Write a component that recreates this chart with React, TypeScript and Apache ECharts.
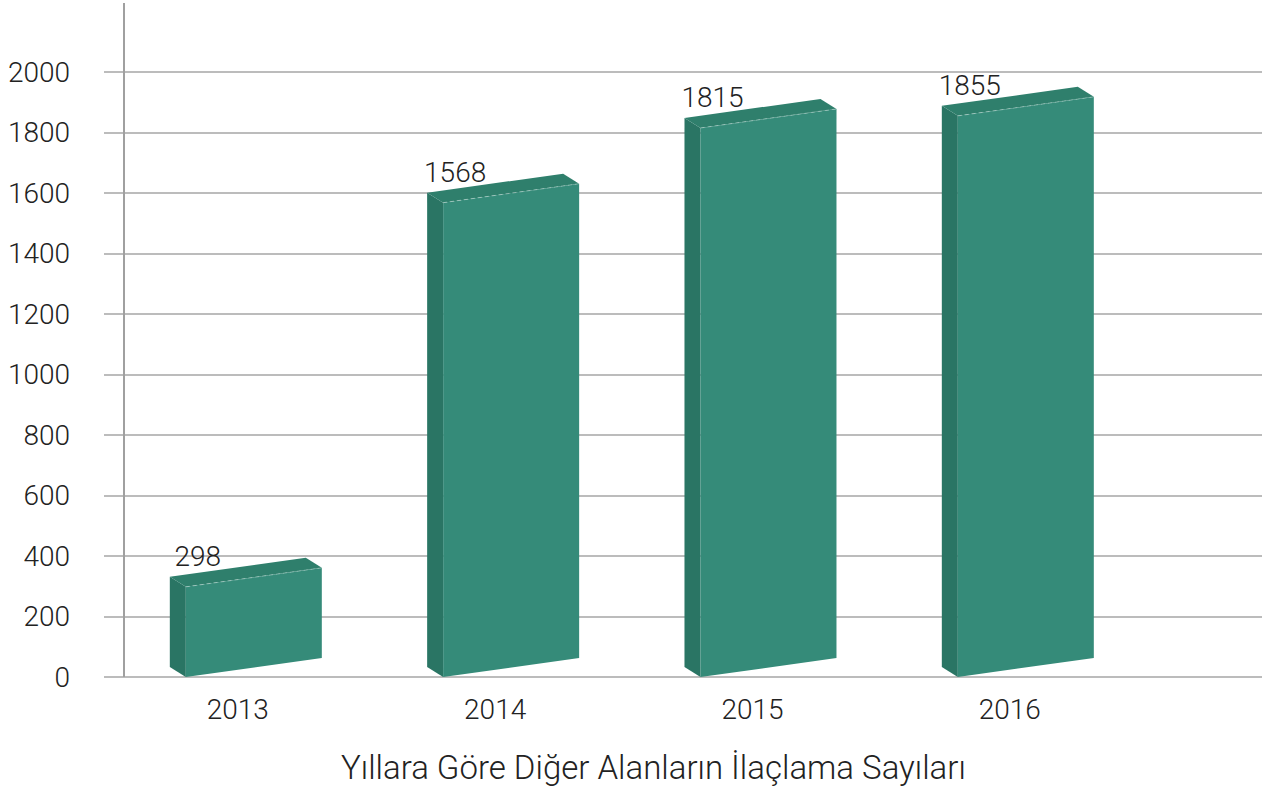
import React, { useEffect, useRef } from "react";
import * as echarts from "echarts";

const years = ["2013", "2014", "2015", "2016"];
const values = [298, 1568, 1815, 1855];
const yTicks = { min: 0, max: 2000, interval: 200 };
const title = "Yıllara Göre Diğer Alanların İlaçlama Sayıları";

const FONT = "Roboto";
const TEXT_COLOR = "#222222";

export default function App() {
  const ref = useRef<HTMLDivElement>(null);
  useEffect(() => {
    if (!ref.current) return;
    const chart = echarts.init(ref.current, null, { renderer: "svg" });
    const option: any = {
      animation: false,
      backgroundColor: "#ffffff",
      textStyle: { fontFamily: FONT },
      title: {
        text: title,
        left: 336,
        top: 746,
        textStyle: { fontFamily: FONT, fontSize: 33, fontWeight: 300, color: TEXT_COLOR },
      },
      grid: { left: 104, right: 5, top: 72, bottom: 111 },
      xAxis: {
        type: "value",
        min: -0.52,
        max: 3.98,
        axisLine: { show: false },
        axisTick: { show: false },
        splitLine: { show: false },
        axisLabel: {
          customValues: [0, 1, 2, 3],
          formatter: (v: number) => years[Math.round(v)] ?? "",
          fontFamily: FONT,
          fontSize: 28,
          fontWeight: 300,
          color: TEXT_COLOR,
          margin: 18,
        },
      },
      yAxis: {
        type: "value",
        min: yTicks.min,
        max: yTicks.max,
        interval: yTicks.interval,
        axisLine: { show: false },
        axisTick: { show: false },
        axisLabel: {
          formatter: (v: number) => String(v),
          fontFamily: FONT,
          fontSize: 28,
          fontWeight: 300,
          color: TEXT_COLOR,
          margin: 34,
        },
        splitLine: { lineStyle: { color: "#a6a6a6", width: 1.5 } },
      },
      graphic: [
        {
          type: "line",
          shape: { x1: 124, y1: 3, x2: 124, y2: 677 },
          style: { stroke: "#a0a0a0", lineWidth: 2 },
          z: 5,
        },
      ],
      series: [
        {
          type: "custom",
          data: values.map((v, i) => [i, v]),
          z: 10,
          renderItem: (params: any, api: any) => {
            const i = api.value(0);
            const v = api.value(1);
            const [xc, y0] = api.coord([i, 0]);
            const yT = api.coord([i, v])[1];
            const sideW = 16;
            const depthDy = 10;
            const skew = 19;
            const frontW = 136;
            const xL = xc - 68 + sideW;
            const xR = xL + frontW;
            return {
              type: "group",
              children: [
                {
                  type: "polygon",
                  shape: {
                    points: [
                      [xL - sideW, yT - depthDy],
                      [xL, yT],
                      [xL, y0],
                      [xL - sideW, y0 - depthDy],
                    ],
                  },
                  style: { fill: "#2a7564" },
                },
                {
                  type: "polygon",
                  shape: {
                    points: [
                      [xL - sideW, yT - depthDy],
                      [xL, yT],
                      [xR, yT - skew],
                      [xR - sideW, yT - skew - depthDy],
                    ],
                  },
                  style: { fill: "#2f7f6c" },
                },
                {
                  type: "polygon",
                  shape: {
                    points: [
                      [xL, yT],
                      [xR, yT - skew],
                      [xR, y0 - skew],
                      [xL, y0],
                    ],
                  },
                  style: { fill: "#358b79" },
                },
                {
                  type: "polyline",
                  shape: { points: [[xL, yT], [xR, yT - skew]] },
                  style: { stroke: "rgba(255,255,255,0.35)", lineWidth: 1, lineDash: [4, 3], fill: null },
                },
                {
                  type: "text",
                  style: {
                    text: String(v),
                    x: xc - 40,
                    y: yT - 30,
                    align: "center",
                    verticalAlign: "middle",
                    fontFamily: FONT,
                    fontSize: 28,
                    fontWeight: 300,
                    fill: TEXT_COLOR,
                  },
                },
              ],
            };
          },
        },
      ],
    };
    chart.setOption(option);
    return () => chart.dispose();
  }, []);
  return (
    <div
      ref={ref}
      style={{ position: "fixed", left: 0, top: 0, width: 1267, height: 788 }}
    />
  );
}
